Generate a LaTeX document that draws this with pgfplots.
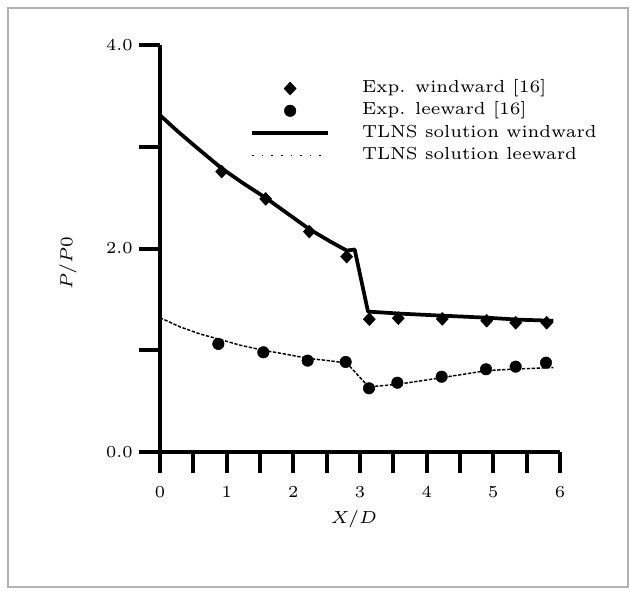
\documentclass[border=0pt]{standalone}
\usepackage{pgfplots}
\pgfplotsset{compat=1.18}
\usepackage{graphicx}
\newcommand{\lgt}[1]{\scalebox{2.18}{\fontsize{6}{7}\selectfont #1}}
\newcommand{\tk}[1]{\scalebox{2.1}{\fontsize{6}{7}\selectfont #1}}
\pgfplotstableread{
x y
0.925 2.756
1.585 2.488
2.24 2.166
2.8 1.92
3.14 1.305
3.574 1.315
4.234 1.308
4.90 1.29
5.335 1.27
5.80 1.27
}\windexp
\pgfplotstableread{
x y
0.875 1.062
1.55 0.98
2.215 0.898
2.785 0.885
3.135 0.626
3.56 0.681
4.225 0.740
4.89 0.813
5.335 0.839
5.79 0.878
}\leeexp
\pgfplotstableread{
x y
0.0 3.31
0.25 3.16
0.5 3.02
0.92 2.79
1.25 2.64
1.58 2.50
1.9 2.35
2.24 2.19
2.55 2.07
2.8 1.98
2.92 1.99
3.12 1.38
3.6 1.36
4.23 1.34
4.9 1.32
5.4 1.30
5.9 1.29
}\windtlns
\pgfplotstableread{
x y
0.0 1.32
0.3 1.23
0.6 1.16
0.88 1.11
1.2 1.05
1.55 1.00
1.9 0.96
2.22 0.92
2.5 0.90
2.8 0.875
3.13 0.64
3.56 0.665
4.22 0.73
4.9 0.80
5.33 0.815
5.9 0.83
}\leetlns
\begin{document}
\begin{tikzpicture}
\useasboundingbox (-120pt,-103.5pt) rectangle (352.5pt,339pt);
\draw[gray!60, line width=1.1pt] (-114pt,-101.25pt) rectangle (351pt,333pt);
\begin{axis}[
  at={(0pt,0pt)}, anchor=south west,
  scale only axis, width=300pt, height=305.25pt,
  xmin=0, xmax=6, ymin=0, ymax=4,
  axis x line*=bottom, axis y line*=left,
  axis line style={line width=3.7pt, -},
  xtick={0,1,2,3,4,5,6},
  minor xtick={0.5,1.5,2.5,3.5,4.5,5.5},
  xticklabels={\tk{0},\tk{1},\tk{2},\tk{3},\tk{4},\tk{5},\tk{6}},
  ytick={0,1,2,3,4},
  yticklabels={\tk{0.0},,\tk{2.0},,\tk{4.0}},
  tick align=outside, major tick length=16pt, minor tick length=16pt,
  tick style={line width=3pt, black},
  minor tick style={line width=3pt, black},
  xticklabel style={yshift=-6pt},
  yticklabel style={xshift=-1pt},
  xlabel={\lgt{$X/D$}}, ylabel={\lgt{$P/P0$}},
  xlabel style={at={(rel axis cs:0.485,0)}, yshift=-50pt, anchor=center},
  ylabel style={at={(rel axis cs:0,0.464)}, yshift=69pt, anchor=center},
  clip=false,
  legend image code/.code={\draw[mark repeat=2,mark phase=2,#1] plot coordinates {(0pt,0pt) (28.5pt,0pt) (57pt,0pt)};},
  legend cell align=left,
  legend style={draw=none, fill=none, at={(rel axis cs:0.225,0.915)}, anchor=north west,
    inner sep=0pt, row sep=3.7pt, column sep=24pt,
    nodes={inner sep=0pt, text height=9.5pt, text depth=3.5pt}},
]
\addplot[only marks, mark=diamond*, mark size=4.8pt, mark options={xscale=1.25}, black] table {\windexp};
\addlegendentry{\lgt{Exp. windward [16]}}
\addplot[only marks, mark=*, mark size=4.3pt, black] table {\leeexp};
\addlegendentry{\lgt{Exp. leeward [16]}}
\addplot[black, line width=2.8pt, line join=round] table {\windtlns};
\addlegendentry{\lgt{TLNS solution windward}}
\addlegendimage{black, line width=1.2pt, dash pattern=on 1.2pt off 6pt}
\addlegendentry{\lgt{TLNS solution leeward}}
\addplot[black, line width=1.1pt, dash pattern=on 2.5pt off 1.2pt, forget plot] table {\leetlns};
\end{axis}
\end{tikzpicture}
\end{document}
